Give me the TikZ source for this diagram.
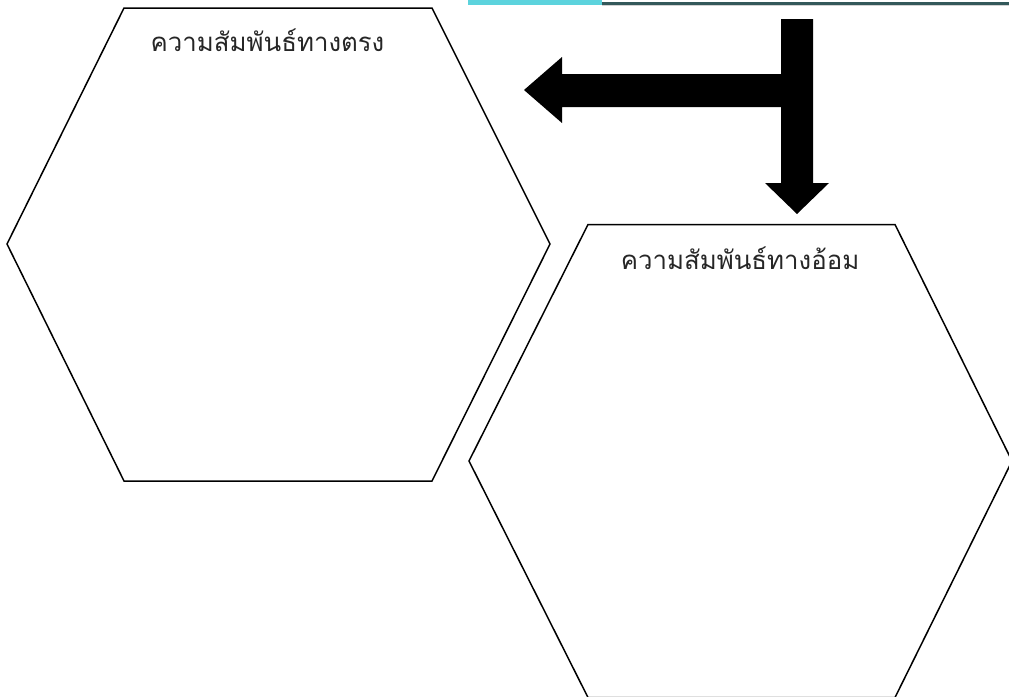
\documentclass[tikz,border=0pt]{standalone}
\usepackage{fontspec}
\newfontfamily\thaifont[Script=Thai]{Loma}
\definecolor{barcyan}{HTML}{5CD3DD}
\definecolor{bardark}{HTML}{33585A}
\begin{document}
\begin{tikzpicture}[x=1pt,y=-1pt,
  hexline/.style={draw=black,line width=1.5pt,line join=miter},
  label/.style={font=\thaifont\fontsize{25.8}{30}\selectfont,inner sep=0pt,anchor=center,text=black!85}]
\useasboundingbox (0,0) rectangle (1009,696);
\clip (0,0) rectangle (1009,696);
% top bar
\fill[barcyan] (468,0) rectangle (602,4.5);
\fill[gray!35] (602,4) rectangle (1009,6);
\fill[bardark] (602,1.5) rectangle (1009,4.5);
% hexagon 1
\coordinate (h1a) at (124,8);
\coordinate (h1b) at (432,8);
\coordinate (h1c) at (550,244);
\coordinate (h1d) at (432,481);
\coordinate (h1e) at (124,481);
\coordinate (h1f) at (7,244);
\draw[hexline] (h1a) -- (h1b) -- (h1c) -- (h1d) -- (h1e) -- (h1f) -- cycle;
% hexagon 2
\coordinate (h2a) at (588,224.5);
\coordinate (h2b) at (895,224.5);
\coordinate (h2c) at (1012,461);
\coordinate (h2d) at (895,697.5);
\coordinate (h2e) at (588,697.5);
\coordinate (h2f) at (469,461);
\draw[hexline] (h2a) -- (h2b) -- (h2c) -- (h2d) -- (h2e) -- (h2f) -- cycle;
% labels
\node[label] (t1) at (267.5,40) {ความสัมพันธ์ทางตรง};
\node[label] (t2) at (740,258) {ความสัมพันธ์ทางอ้อม};
% arrows
\fill[black] (813,19) -- (813,183) -- (829,183) -- (797,214) -- (765,183) -- (781,183)
  -- (781,107) -- (562,107) -- (562,123) -- (524,90) -- (562,57) -- (562,74) -- (781,74)
  -- (781,19) -- cycle;
\end{tikzpicture}
\end{document}
